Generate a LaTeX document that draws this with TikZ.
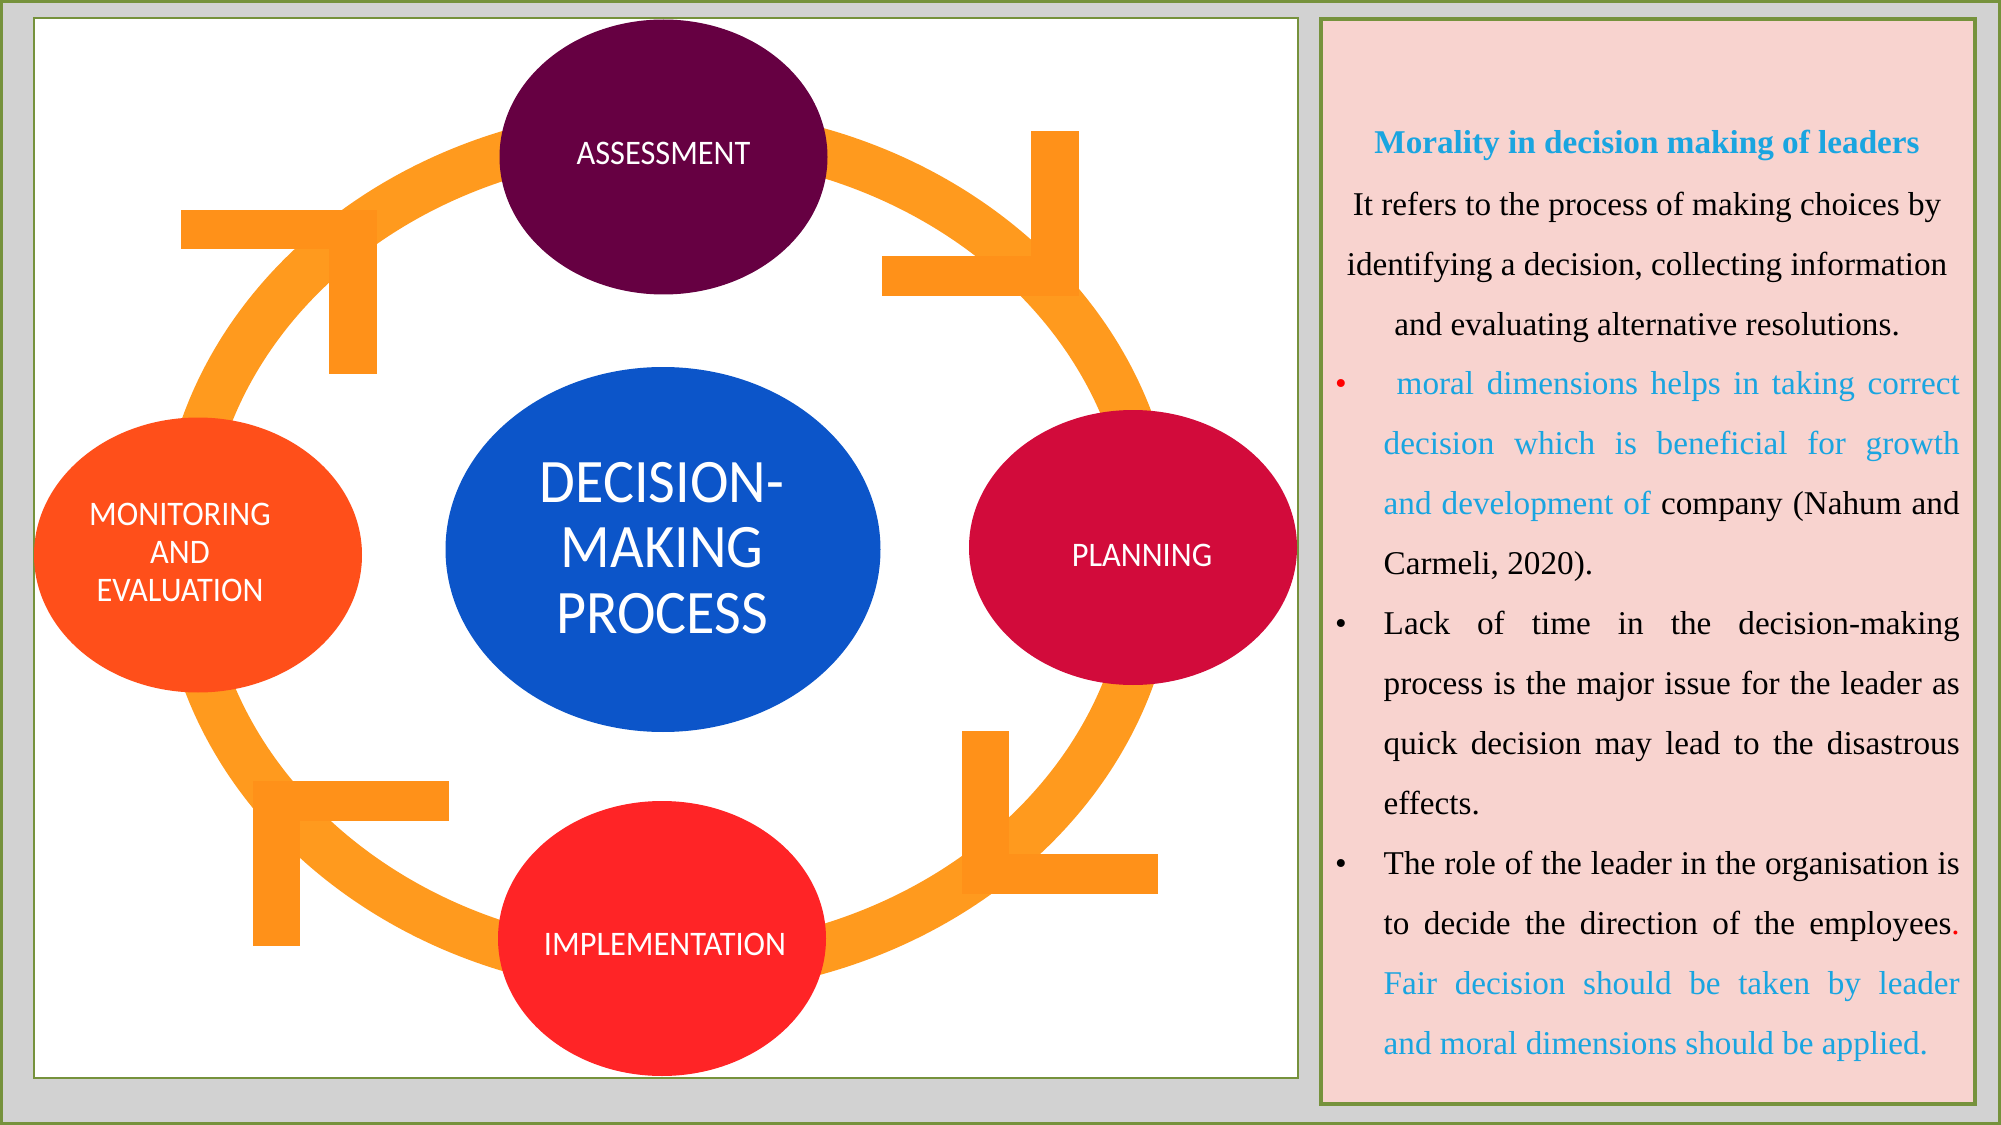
\documentclass[tikz,border=0pt]{standalone}
\usepackage{fontspec}
\setmainfont{Liberation Serif}
\newfontfamily\bubblefont[FakeStretch=0.94]{Carlito}
\usetikzlibrary{shapes.geometric}

\definecolor{slidegray}{HTML}{D2D2D2}
\definecolor{olive}{HTML}{76923C}
\definecolor{panelpink}{HTML}{F8D3CF}
\definecolor{ringorange}{HTML}{FF9A1E}
\definecolor{barorange}{HTML}{FF9119}
\definecolor{assesscol}{HTML}{660042}
\definecolor{plancol}{HTML}{D20B3B}
\definecolor{implcol}{HTML}{FF2426}
\definecolor{monicol}{HTML}{FF4F1A}
\definecolor{centercol}{HTML}{0C55C9}
\definecolor{textblue}{HTML}{1AA5E0}

\tikzset{
  bubble/.style={ellipse, inner sep=0pt, minimum width=32.8mm, minimum height=27.5mm},
  bubbletext/.style={text=white, inner sep=0pt, align=center,
    font=\bubblefont\fontsize{9.8}{10.8}\selectfont},
  bigtext/.style={text=white, inner sep=0pt, align=center,
    font=\bubblefont\fontsize{17.6}{18.6}\selectfont},
  arrowbar/.style={fill=barorange},
  body/.style={inner sep=0pt, font=\fontsize{9.45}{17.07}\selectfont},
}
\newcommand{\fullline}[1]{\makebox[57.6mm][s]{#1}}

\begin{document}
\begin{tikzpicture}[x=0.1mm,y=-0.1mm]
    \useasboundingbox (0,0) rectangle (2001,1125);
    \fill[slidegray] (0,0) rectangle (2001,1125);
    \draw[olive, line width=0.3mm] (1.5,1.5) rectangle (1999.5,1123.5);
    \draw[olive, line width=0.15mm, fill=white] (34,18) rectangle (1298,1078);
    \draw[olive, line width=0.35mm, fill=panelpink] (1321,19) rectangle (1975,1104);

    % cycle ring and its arrow bars
    \draw[ringorange, line width=4.8mm] (668,551) ellipse [x radius=48.5mm, y radius=42mm];
    \foreach \xa/\ya/\xb/\yb in {181/210/377/249, 329/210/377/374,
                                 1031/131/1079/296, 882/256/1079/296,
                                 962/731/1009/893, 962/854/1158/894,
                                 253/781/300/946, 253/781/449/821}
      \fill[arrowbar] (\xa,\ya) rectangle (\xb,\yb);

    % stages
    \node[bubble, fill=assesscol] (assess) at (663.5,157) {};
    \node[bubble, fill=plancol] (plan) at (1133,547.5) {};
    \node[bubble, fill=implcol] (impl) at (662,938.5) {};
    \node[bubble, fill=monicol] (monitor) at (198,555) {};
    \node[ellipse, inner sep=0pt, minimum width=43.5mm, minimum height=36.5mm,
          fill=centercol] (process) at (663,549.5) {};
    \node[bubbletext] (assesslbl) at (663.5,153) {ASSESSMENT};
    \node[bubbletext] (planlbl) at (1142,555) {PLANNING};
    \node[bubbletext] (impllbl) at (665,944) {IMPLEMENTATION};
    \node[bubbletext] (monitorlbl) at (180,552) {MONITORING\\AND\\EVALUATION};
    \node[bigtext] (processlbl) at (662,548) {DECISION-\\MAKING\\PROCESS};

    % text panel (base anchor = last line)
    \node[body, anchor=base, text=textblue] (title) at (1647,154)
      {\bfseries Morality in decision making of leaders};
    \node[body, anchor=base, align=center] (intro) at (1647,335)
      {It refers to the process of making choices by\\
       identifying a decision, collecting information\\
       and evaluating alternative resolutions.};
    \node[body, anchor=base, text=red] (dot1) at (1341,394) {\textbullet};
    \node[body, anchor=base] (dot2) at (1341,634) {\textbullet};
    \node[body, anchor=base] (dot3) at (1341,874) {\textbullet};
    \node[body, anchor=base west, align=left] (item1) at (1383,574)
      {\fullline{\color{textblue}\hspace{1.3mm}moral dimensions helps in taking correct}\\
       \fullline{\color{textblue}decision which is beneficial for growth}\\
       \fullline{\color{textblue}and development of \color{black}company (Nahum and}\\
       Carmeli, 2020).};
    \node[body, anchor=base west, align=left] (item2) at (1383,814)
      {\fullline{Lack of time in the decision-making}\\
       \fullline{process is the major issue for the leader as}\\
       \fullline{quick decision may lead to the disastrous}\\
       effects.};
    \node[body, anchor=base west, align=left] (item3) at (1383,1054)
      {\fullline{The role of the leader in the organisation is}\\
       \fullline{to decide the direction of the employees{\color{red}.}}\\
       \fullline{\color{textblue}Fair decision should be taken by leader}\\
       {\color{textblue}and moral dimensions should be applied.}};
\end{tikzpicture}
\end{document}
